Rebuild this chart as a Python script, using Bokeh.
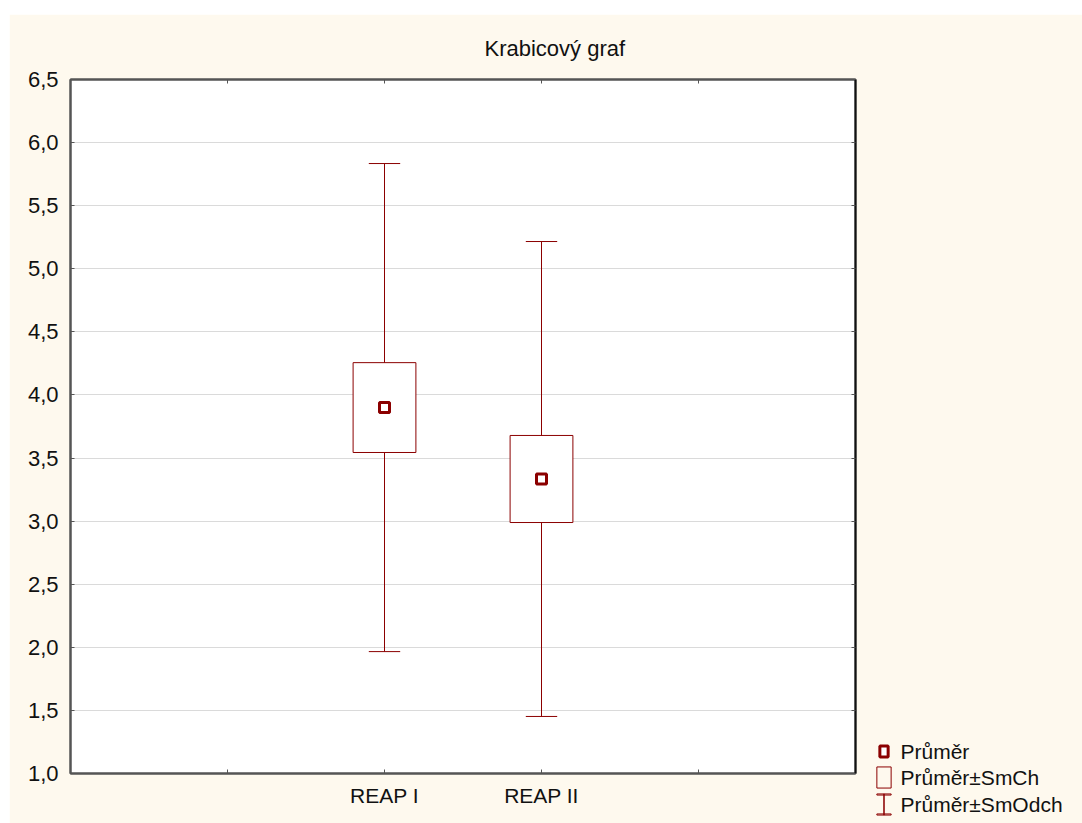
from bokeh.plotting import figure
from bokeh.models import (LinearAxis, FixedTicker, CustomJSTickFormatter, Range1d, Spacer, Label)
from bokeh.layouts import column, row
from bokeh.embed import file_html
from bokeh.resources import INLINE

# ---------------- data ----------------
categories = ["REAP I", "REAP II"]
means = [3.900, 3.334]
se = [0.356, 0.345]       # Průměr ± SmCh
sd = [1.934, 1.882]       # Průměr ± SmOdch
y_ticks = [1.0, 1.5, 2.0, 2.5, 3.0, 3.5, 4.0, 4.5, 5.0, 5.5, 6.0, 6.5]
x_ticks = [1, 2, 3, 4]
title_text = "Krabicový graf"
legend_labels = ["Průměr", "Průměr±SmCh", "Průměr±SmOdch"]

# ---------------- style ----------------
FONT = "Liberation Sans"
CREAM = "#fef9ee"
RED = "#8b0000"
AXIS = "#555555"
TXT = "#111111"

X0, X1 = 0, 5
Y0, Y1 = 1.0, 6.5
x_pos = [i + 2 for i in range(len(categories))]

# layout (page pixels)
PAGE_L, PAGE_T = 9, 14          # where the cream area starts
FR_L, FR_T, FR_W, FR_H = 70, 79, 785, 694
FIG_W = 1072
FIG_H = 809

def dx(px):
    return X0 + (px - FR_L) / FR_W * (X1 - X0)

def dy(py):
    return Y1 - (py - FR_T) / FR_H * (Y1 - Y0)

p = figure(width=FIG_W, height=FIG_H, frame_width=FR_W, frame_height=FR_H,
           x_range=Range1d(X0, X1), y_range=Range1d(Y0, Y1),
           output_backend="svg", toolbar_location=None, title=title_text,
           min_border_left=FR_L - PAGE_L, min_border_top=FR_T - PAGE_T,
           min_border_right=FIG_W - (FR_L - PAGE_L) - FR_W,
           min_border_bottom=FIG_H - (FR_T - PAGE_T) - FR_H)
p.background_fill_color = "white"
p.border_fill_color = CREAM
p.outline_line_color = AXIS
p.outline_line_width = 2

p.title.align = "left"
p.title.offset = 414
p.title.text_font = FONT
p.title.text_font_size = "22px"
p.title.text_font_style = "normal"
p.title.text_color = TXT
p.title.standoff = 38

# axes
p.xaxis.ticker = FixedTicker(ticks=x_ticks)
lab = {str(x): c for x, c in zip(x_pos, categories)}
p.xaxis.formatter = CustomJSTickFormatter(args=dict(lab=lab),
                                          code="const k = String(tick); return (k in lab) ? lab[k] : '';")
p.yaxis.ticker = FixedTicker(ticks=y_ticks)
p.yaxis.formatter = CustomJSTickFormatter(code="return tick.toFixed(1).replace('.', ',');")

for ax in (p.xaxis[0], p.yaxis[0]):
    ax.axis_line_color = AXIS
    ax.axis_line_width = 2
    ax.major_tick_line_color = AXIS
    ax.major_tick_in = 4
    ax.major_tick_out = 0
    ax.minor_tick_line_color = None
    ax.major_label_text_font = FONT
    ax.major_label_text_color = TXT
p.xaxis.major_label_text_font_size = "21px"
p.yaxis.major_label_text_font_size = "22px"
p.yaxis.major_label_standoff = 12
p.xaxis.major_label_standoff = 10

top_ax = LinearAxis(ticker=FixedTicker(ticks=x_ticks),
                    formatter=CustomJSTickFormatter(code="return '';"))
right_ax = LinearAxis(ticker=FixedTicker(ticks=y_ticks),
                      formatter=CustomJSTickFormatter(code="return '';"))
for ax in (top_ax, right_ax):
    ax.axis_line_color = AXIS
    ax.axis_line_width = 2
    ax.major_tick_line_color = AXIS
    ax.major_tick_in = 4
    ax.major_tick_out = 0
    ax.minor_tick_line_color = None
    ax.major_label_text_font_size = "1px"
    ax.major_label_standoff = 0
p.add_layout(top_ax, "above")
p.add_layout(right_ax, "right")
right_ax.axis_line_color = "#111111"

p.xgrid.grid_line_color = None
p.ygrid.ticker = FixedTicker(ticks=y_ticks)
p.ygrid.grid_line_color = "#dadada"
p.ygrid.grid_line_width = 1

# ---------------- glyphs ----------------
lo_sd = [m - s for m, s in zip(means, sd)]
hi_sd = [m + s for m, s in zip(means, sd)]
lo_se = [m - s for m, s in zip(means, se)]
hi_se = [m + s for m, s in zip(means, se)]
CAP = 0.1
BOX = 0.2

p.segment(x0=x_pos, y0=lo_sd, x1=x_pos, y1=hi_sd, line_color=RED, line_width=1)
p.segment(x0=[x - CAP for x in x_pos], y0=hi_sd, x1=[x + CAP for x in x_pos], y1=hi_sd,
          line_color=RED, line_width=1)
p.segment(x0=[x - CAP for x in x_pos], y0=lo_sd, x1=[x + CAP for x in x_pos], y1=lo_sd,
          line_color=RED, line_width=1)
p.quad(left=[x - BOX for x in x_pos], right=[x + BOX for x in x_pos],
       bottom=lo_se, top=hi_se, fill_color="white", line_color=RED, line_width=1)
p.scatter(x=x_pos, y=means, marker="square", size=10, line_width=3,
          line_color=RED, fill_color="white")

# ---------------- legend (annotations in the right side panel) ----------------
ICON_X = 883.5
ROWS = [751, 777, 804]
TEXT_X = 900

def icon(px, py, pad, lw, fill=None):
    """An empty bordered label used as a legend symbol (box drawn by its border)."""
    p.add_layout(Label(x=dx(px), y=dy(py), text=" ", text_font_size="1px",
                       text_align="center", text_baseline="middle",
                       padding=pad, border_line_color=RED, border_line_width=lw,
                       background_fill_color=fill), "right")

# Průměr: small square with thick border
icon(ICON_X, ROWS[0], (4, 4, 5, 5), 3, "white")
# Průměr±SmCh: tall rectangle
icon(ICON_X, ROWS[1], (7, 7, 10, 10), 1)
# Průměr±SmOdch: I-beam (stem + two caps)
icon(ICON_X, ROWS[2], (0, 0, 10, 10), 1)
icon(ICON_X, ROWS[2] - 10, (7, 7, 0, 0), 1)
icon(ICON_X, ROWS[2] + 10, (7, 7, 0, 0), 1)

for txt, ry in zip(legend_labels, ROWS):
    p.add_layout(Label(x=dx(TEXT_X), y=dy(ry), text=txt, text_align="left",
                       text_baseline="middle", text_font=FONT,
                       text_font_size="21px", text_color=TXT), "right")

layout = column(Spacer(width=1082, height=PAGE_T), row(Spacer(width=PAGE_L, height=FIG_H), p))
open("out.html", "w").write(file_html(layout, INLINE))
